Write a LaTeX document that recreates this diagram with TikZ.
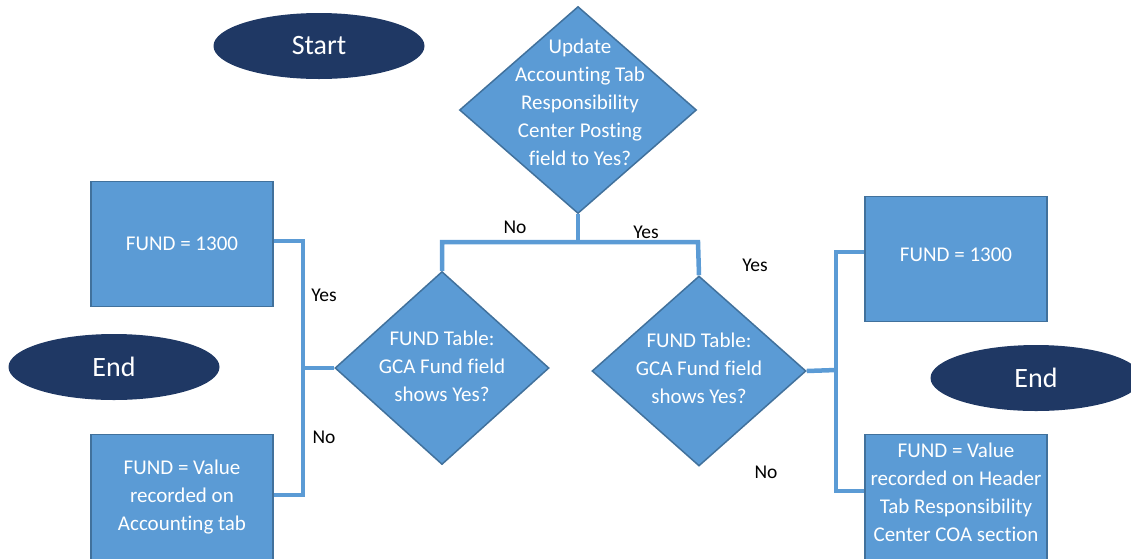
\documentclass[tikz,border=0pt]{standalone}
\usepackage{fontspec}
\setmainfont[Ligatures=NoCommon]{Carlito}
\usepackage{xcolor}
\usepackage{tikz}
\usetikzlibrary{shapes.geometric, positioning}
\definecolor{navy}{HTML}{1F3864}
\definecolor{boxblue}{HTML}{5B9BD5}
\definecolor{edgeblue}{HTML}{41719C}

\begin{document}
\begin{tikzpicture}[x=1pt,y=-1pt]
\tikzstyle{terminal}=[ellipse,fill=navy,text=white,minimum width=211pt,minimum height=66pt,font=\fontsize{28}{32}\selectfont]
\tikzstyle{decision}=[diamond,fill=boxblue,draw=edgeblue,line width=1.5pt,inner sep=0pt]
\tikzstyle{qtext}=[text=white,align=center,inner sep=0pt,font=\fontsize{21}{28}\selectfont]
\tikzstyle{process}=[rectangle,fill=boxblue,draw=edgeblue,line width=1.5pt,minimum width=182pt,minimum height=125pt,inner sep=2pt,text=white,align=center,font=\fontsize{21}{28}\selectfont]
\tikzstyle{flow}=[draw=boxblue,line width=4.5pt]
\tikzstyle{answer}=[font=\fontsize{19.5}{22}\selectfont]

\useasboundingbox (0,0) rectangle (1131,558);
\clip (0,0) rectangle (1131,558);

% Start and End
\node[terminal] (start) at (319,46) {Start};
\node[terminal] (endl) at (114,367) {End};
\node[terminal] (endr) at (1036,378) {End};

% Top question
\node[decision,minimum width=237pt,minimum height=207pt] (upd) at (578,110) {};
\node[qtext] (updq) at (580,102) {Update\\Accounting Tab\\Responsibility\\Center Posting\\field to Yes?};

% GCA Fund questions
\node[decision,minimum width=214pt,minimum height=193pt] (gcal) at (442,368) {};
\node[qtext] (gcalq) at (442,366) {FUND Table:\\GCA Fund field\\shows Yes?};
\node[decision,minimum width=214pt,minimum height=190pt] (gcar) at (699,371) {};
\node[qtext] (gcarq) at (699,368) {FUND Table:\\GCA Fund field\\shows Yes?};

% Results
\node[process] (fundl) at (182,244) {FUND = 1300};
\node[process] (valuel) at (182,497) {FUND = Value\\recorded on\\Accounting tab};
\node[process] (fundr) at (956,259) {};
\node[qtext] (fundrq) at (956,255) {FUND = 1300};
\node[process] (valuer) at (956,497) {};
\node[qtext] (valuerq) at (956,492) {FUND = Value\\recorded on Header\\Tab Responsibility\\Center COA section};

% Connectors
\coordinate (split) at (578,242);
\coordinate (nol) at (442,242);
\coordinate (yesr) at (698,242);
\coordinate (jl) at (303,368);
\coordinate (jlt) at (303,241);
\coordinate (jlb) at (303,495);
\coordinate (jr) at (836,370);
\coordinate (jrt) at (836,252);
\coordinate (jrb) at (836,491);

\draw[flow] (upd.south) -- (split);
\draw[flow] (gcal.north) -- (nol) -- (split) -- (yesr) -- (gcar.north);
\draw[flow] (gcal.west) -- (jl);
\draw[flow] (fundl.east |- jlt) -- (jlt) -- (jlb) -- (valuel.east |- jlb);
\draw[flow] (gcar.east) -- (jr);
\draw[flow] (fundr.west |- jrt) -- (jrt) -- (jrb) -- (valuer.west |- jrb);

% Answers
\node[answer] (no1) at (515,227) {No};
\node[answer] (yes1) at (646,232) {Yes};
\node[answer] (yes2) at (324,295) {Yes};
\node[answer] (no2) at (324,437) {No};
\node[answer] (yes3) at (755,265) {Yes};
\node[answer] (no3) at (766,472) {No};

\end{tikzpicture}
\end{document}
